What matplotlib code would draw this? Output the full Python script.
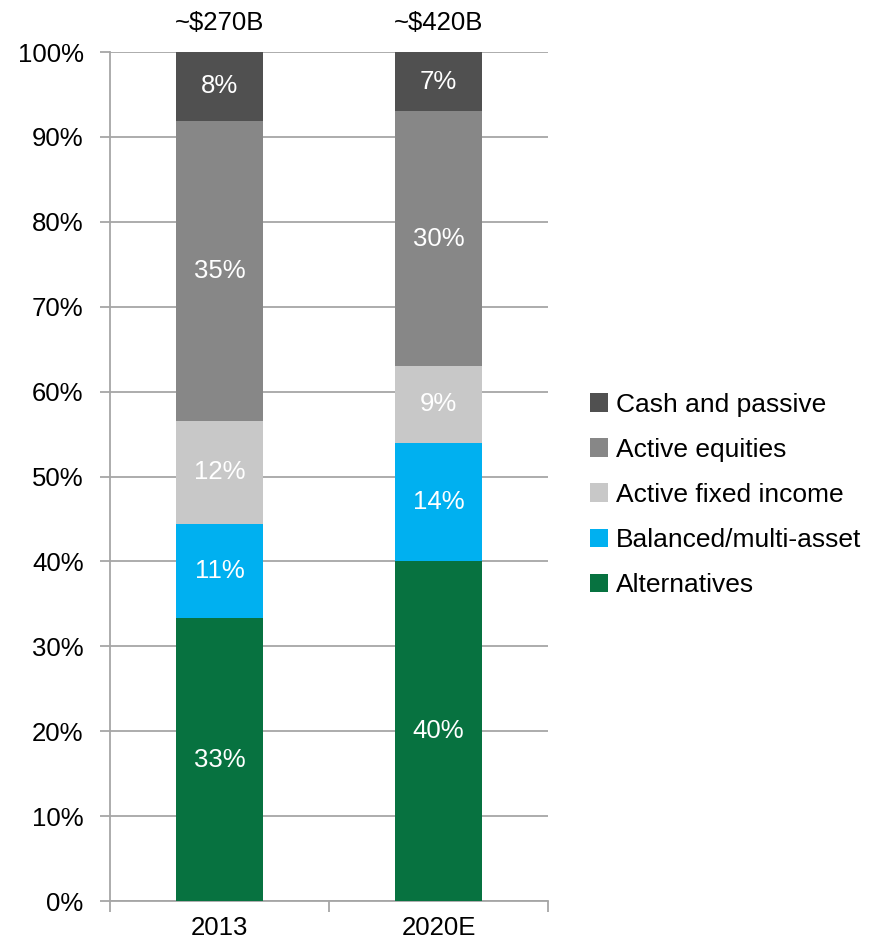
import matplotlib
matplotlib.use('Agg')
import matplotlib.pyplot as plt
from matplotlib.patches import Patch
import numpy as np

plt.rcParams['font.family'] = ['Liberation Sans', 'DejaVu Sans']

years = ['2013', '2020E']
totals = ['~$270B', '~$420B']
segments = ['Alternatives', 'Balanced/multi-asset', 'Active fixed income',
            'Active equities', 'Cash and passive']
shares = {
    'Alternatives': [33, 40],
    'Balanced/multi-asset': [11, 14],
    'Active fixed income': [12, 9],
    'Active equities': [35, 30],
    'Cash and passive': [8, 7],
}
colors = {
    'Alternatives': '#077240',
    'Balanced/multi-asset': '#00b0f0',
    'Active fixed income': '#c8c8c8',
    'Active equities': '#878787',
    'Cash and passive': '#505050',
}

FS = 18.5
grid_col = '#a6a6a6'

fig = plt.figure(figsize=(8.75, 9.41), dpi=100)
ax = fig.add_axes([0.1257, 0.0425, 0.5006, 0.9022])

x = np.arange(len(years)) + 0.5
# each bar is a 100% stack, so scale the rounded shares to sum to 100
col_sums = np.sum([shares[s] for s in segments], axis=0)
bottom = np.zeros(len(years))
for seg in segments:
    vals = np.array(shares[seg], dtype=float)
    heights = vals / col_sums * 100
    ax.bar(x, heights, width=0.4, bottom=bottom, color=colors[seg],
           zorder=3, linewidth=0)
    for xi, b, h, v in zip(x, bottom, heights, vals):
        ax.text(xi, b + h / 2, '{:.0f}%'.format(v), ha='center', va='center',
                color='white', fontsize=FS, zorder=4)
    bottom += heights

for xi, t in zip(x, totals):
    ax.text(xi, 103.4, t, ha='center', va='center', fontsize=FS,
            clip_on=False)

ax.set_xlim(0, 2)
ax.set_ylim(0, 100)
ax.set_yticks(np.arange(0, 101, 10))
ax.set_yticklabels(['{}%'.format(v) for v in range(0, 101, 10)], fontsize=FS)
ax.set_xticks([0, 1, 2])
ax.set_xticklabels([])
ax.set_xticks(x, minor=True)
ax.set_xticklabels(years, minor=True, fontsize=FS)
ax.tick_params(axis='x', which='major', length=8, width=1.3, color=grid_col,
               direction='out')
ax.tick_params(axis='x', which='minor', length=0, pad=11)
ax.tick_params(axis='y', length=7, width=1.3, color=grid_col, pad=12)

ax.yaxis.grid(True, color=grid_col, linewidth=1.3, zorder=0)
ax.set_axisbelow(True)
for side in ['top', 'right']:
    ax.spines[side].set_visible(False)
for side in ['left', 'bottom']:
    ax.spines[side].set_color(grid_col)
    ax.spines[side].set_linewidth(1.3)

handles = [Patch(facecolor=colors[s], label=s) for s in reversed(segments)]
fig.legend(handles=handles, loc='center left', bbox_to_anchor=(0.647, 0.474),
           frameon=False, fontsize=19, handlelength=0.7, handleheight=0.7,
           handletextpad=0.3, labelspacing=0.8)

plt.savefig('out.png', dpi=100)
plt.close()
